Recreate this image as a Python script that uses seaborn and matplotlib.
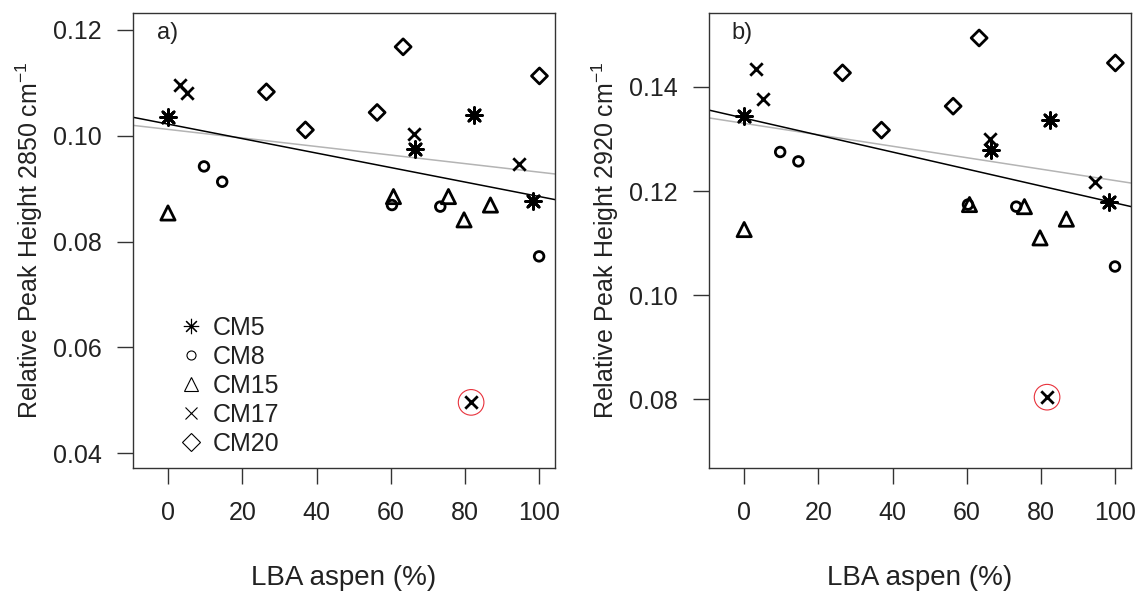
import matplotlib
matplotlib.use("Agg")
import matplotlib.pyplot as plt
import seaborn as sns
import pandas as pd
from matplotlib.lines import Line2D

# ---------------- data ----------------
groups = ["CM5", "CM8", "CM15", "CM17", "CM20"]

aspen_cm5 = [0, 66.5, 82.4, 98.2]
aspen_cm8 = [9.7, 14.6, 60.3, 73.3, 99.9]
aspen_cm15 = [0, 60.7, 75.5, 79.7, 86.8]
aspen_cm17 = [3.3, 5.0, 66.3, 81.6, 94.5]
aspen_cm20 = [26.5, 37.0, 56.3, 63.3, 100]

h2850_cm5 = [0.1036, 0.0975, 0.1039, 0.0876]
h2850_cm8 = [0.0942, 0.0913, 0.0869, 0.0866, 0.0772]
h2850_cm15 = [0.0854, 0.0885, 0.0885, 0.0841, 0.0869]
h2850_cm17 = [0.1096, 0.1080, 0.1003, 0.0496, 0.0946]
h2850_cm20 = [0.1083, 0.1011, 0.1044, 0.1168, 0.1113]

h2920_cm5 = [0.1345, 0.1279, 0.1336, 0.1178]
h2920_cm8 = [0.1275, 0.1257, 0.1174, 0.1170, 0.1055]
h2920_cm15 = [0.1126, 0.1174, 0.1170, 0.1110, 0.1146]
h2920_cm17 = [0.1435, 0.1376, 0.1299, 0.0804, 0.1217]
h2920_cm20 = [0.1427, 0.1317, 0.1363, 0.1494, 0.1446]

# outlier sample (circled in red): group CM17, 4th sample
outlier_group = "CM17"
outlier_index = 3

# regression lines (intercept, slope)
fit_2850_black = [0.1022, -0.000137]
fit_2850_gray = [0.1012, -0.0000809]
fit_2920_black = [0.1340, -0.000163]
fit_2920_gray = [0.1330, -0.000110]

x_ticks = [0, 20, 40, 60, 80, 100]
y_ticks_a = [0.04, 0.06, 0.08, 0.10, 0.12]
y_ticks_b = [0.08, 0.10, 0.12, 0.14]

aspen = [aspen_cm5, aspen_cm8, aspen_cm15, aspen_cm17, aspen_cm20]
h2850 = [h2850_cm5, h2850_cm8, h2850_cm15, h2850_cm17, h2850_cm20]
h2920 = [h2920_cm5, h2920_cm8, h2920_cm15, h2920_cm17, h2920_cm20]

rows = []
for g, xs, ya, yb in zip(groups, aspen, h2850, h2920):
    for i, (xv, av, bv) in enumerate(zip(xs, ya, yb)):
        rows.append(dict(group=g, aspen=xv, h2850=av, h2920=bv,
                         outlier=(g == outlier_group and i == outlier_index)))
df = pd.DataFrame(rows)

# ---------------- style ----------------
sns.set_theme(style="ticks")
plt.rcParams["font.family"] = ["Liberation Sans", "DejaVu Sans"]
plt.rcParams["mathtext.fontset"] = "custom"
plt.rcParams["mathtext.rm"] = "Liberation Sans"
plt.rcParams["mathtext.it"] = "Liberation Sans:italic"
plt.rcParams["mathtext.default"] = "regular"

TXT = "#222222"
FRAME = "#333333"

marker_map = {"CM5": (8, 2, 0), "CM8": "o", "CM15": "^", "CM17": "x", "CM20": "D"}
size_map = {"CM5": 130, "CM8": 48, "CM15": 105, "CM17": 80, "CM20": 66}
filled_map = {"CM5": False, "CM8": True, "CM15": True, "CM17": False, "CM20": True}
legend_ms = {"CM5": 11, "CM8": 6.5, "CM15": 10, "CM17": 8.5, "CM20": 9}

fig = plt.figure(figsize=(11.44, 5.96), dpi=100)
fig.patch.set_facecolor("white")
ax_a = fig.add_axes([0.1163, 0.2148, 0.3689, 0.7634])
ax_b = fig.add_axes([0.6200, 0.2148, 0.3686, 0.7634])

panels = [
    (ax_a, "h2850", fit_2850_black, fit_2850_gray, (0.0372, 0.1232), y_ticks_a,
     r"Relative Peak Height 2850 cm$^{-1}$", "a)", 0.056),
    (ax_b, "h2920", fit_2920_black, fit_2920_gray, (0.0668, 0.1542), y_ticks_b,
     r"Relative Peak Height 2920 cm$^{-1}$", "b)", 0.053),
]

for ax, col, fb, fg, ylim, yt, ylab, tag, tagx in panels:
    ax.set_facecolor("white")
    for g in groups:
        d = df[df.group == g]
        kw = dict(data=d, x="aspen", y=col, ax=ax, marker=marker_map[g],
                  s=size_map[g], linewidth=2.0, legend=False, zorder=3)
        if filled_map[g]:
            sns.scatterplot(**kw, color="black", facecolor="none", edgecolor="black")
        else:
            sns.scatterplot(**kw, color="black")
    od = df[df.outlier]
    sns.scatterplot(data=od, x="aspen", y=col, ax=ax, marker="o", s=340,
                    color="#e8323c", facecolor="none", edgecolor="#e8323c",
                    linewidth=0.8, legend=False, zorder=4)
    ax.axline((0, fg[0]), slope=fg[1], color="#b4b4b4", lw=1.1, zorder=2)
    ax.axline((0, fb[0]), slope=fb[1], color="black", lw=1.1, zorder=2)

    ax.set_xlim(-9.4, 104.2)
    ax.set_ylim(*ylim)
    ax.set_xticks(x_ticks)
    ax.set_xticklabels([str(t) for t in x_ticks])
    ax.set_yticks(yt)
    ax.set_yticklabels([f"{t:.2f}" for t in yt])
    ax.tick_params(axis="both", direction="out", length=11.5, width=1.0,
                   color=FRAME, labelcolor=TXT, labelsize=18)
    ax.tick_params(axis="x", pad=12)
    ax.tick_params(axis="y", pad=11)
    for sp in ax.spines.values():
        sp.set_visible(True)
        sp.set_color(FRAME)
        sp.set_linewidth(1.0)
    ax.set_xlabel("LBA aspen (%)", fontsize=20, color=TXT, labelpad=29)
    ax.set_ylabel(ylab, fontsize=18, color=TXT, labelpad=6)
    ax.text(tagx, 0.955, tag, transform=ax.transAxes, fontsize=17,
            color=TXT, va="center", ha="left")

# legend in panel a
handles = []
for g in groups:
    if filled_map[g]:
        h = Line2D([], [], linestyle="none", marker=marker_map[g], markersize=legend_ms[g],
                   markerfacecolor="none", markeredgecolor="black", markeredgewidth=0.8)
    else:
        h = Line2D([], [], linestyle="none", marker=marker_map[g], markersize=legend_ms[g],
                   color="black", markeredgewidth=0.8)
    handles.append(h)
ax_a.legend(handles, groups, loc="lower left", bbox_to_anchor=(0.108, 0.027),
            frameon=False, fontsize=18, handlelength=0.95, handletextpad=0.4,
            labelspacing=0.2, borderpad=0, borderaxespad=0, labelcolor=TXT)

fig.savefig("out.png", dpi=100, facecolor="white")
